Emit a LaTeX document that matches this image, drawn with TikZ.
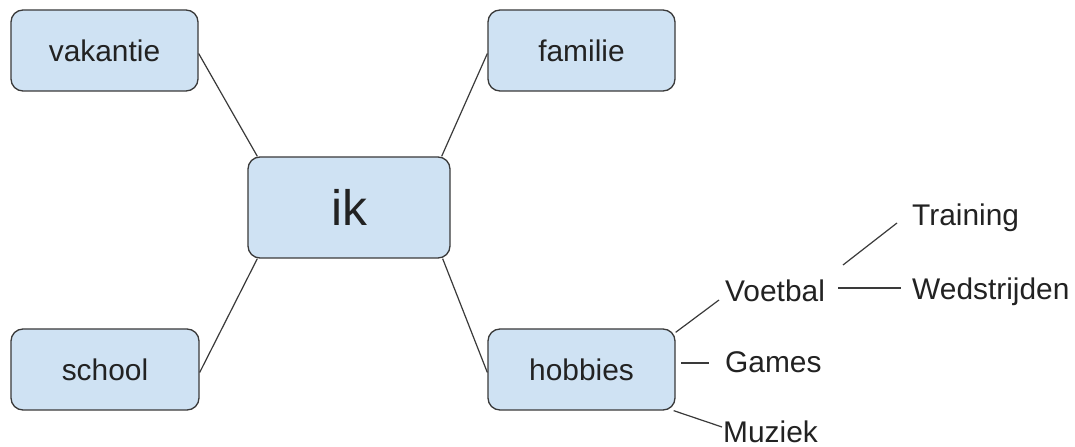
\documentclass[tikz,border=0pt]{standalone}
\usepackage{fontspec}
\setmainfont{Liberation Sans}
\usetikzlibrary{calc}
\definecolor{boxfill}{HTML}{CFE2F3}
\definecolor{boxline}{HTML}{3A3A3A}
\definecolor{txt}{HTML}{222222}
\begin{document}
\begin{tikzpicture}[x=1bp,y=-1bp,
  topic/.style={draw=boxline, fill=boxfill, line width=1.3bp, rounded corners=12bp,
    minimum width=187bp, minimum height=81bp, inner sep=0pt, text=txt,
    font=\fontsize{30}{36}\selectfont},
  leaf/.style={anchor=base west, inner sep=0pt, text=txt, font=\fontsize{30}{36}\selectfont},
  link/.style={draw=boxline, line width=1.2bp}]
\fill[white] (0,0) rectangle (1075,447);
\useasboundingbox (0,0) rectangle (1075,447);
\node[topic] (vak) at (104.5,50.5) {vakantie};
\node[topic] (fam) at (581.5,50.5) {familie};
\node[topic, minimum width=202bp, minimum height=101bp, font=\fontsize{50}{60}\selectfont] (ik) at (349,207.5) {ik};
\node[topic, minimum width=188bp] (sch) at (105,369.5) {school};
\node[topic] (hob) at (581.5,369.5) {hobbies};
\node[leaf] (voe) at (725,302) {Voetbal};
\node[leaf] (gam) at (725,373) {Games};
\node[leaf] (muz) at (723,442) {Muziek};
\node[leaf] (tra) at (912,226) {Training};
\node[leaf] (wed) at (912,300) {Wedstrijden};
\draw[link] ($(vak.east)+(0,3)$) -- ($(ik.north west)+(10,0)$);
\draw[link] ($(fam.west)+(0,3)$) -- ($(ik.north east)+(-9,0)$);
\draw[link] ($(sch.east)+(0,3)$) -- ($(ik.south west)+(10,0)$);
\draw[link] ($(hob.west)+(0,3)$) -- ($(ik.south east)+(-8,0)$);
\draw[link] ($(hob.north east)+(0,4)$) -- ($(voe.base west)+(-6,-2)$);
\draw[link] ($(gam.base west)+(-44,-10)$) -- ($(gam.base west)+(-16,-10)$);
\draw[link] ($(hob.south east)+(-2,0)$) -- ($(muz.base west)+(-1,-15)$);
\draw[link] ($(voe.base west)+(118,-37)$) -- ($(tra.base west)+(-15,-3)$);
\draw[link] ($(voe.base west)+(113,-14)$) -- ($(wed.base west)+(-11,-12)$);
\end{tikzpicture}
\end{document}
